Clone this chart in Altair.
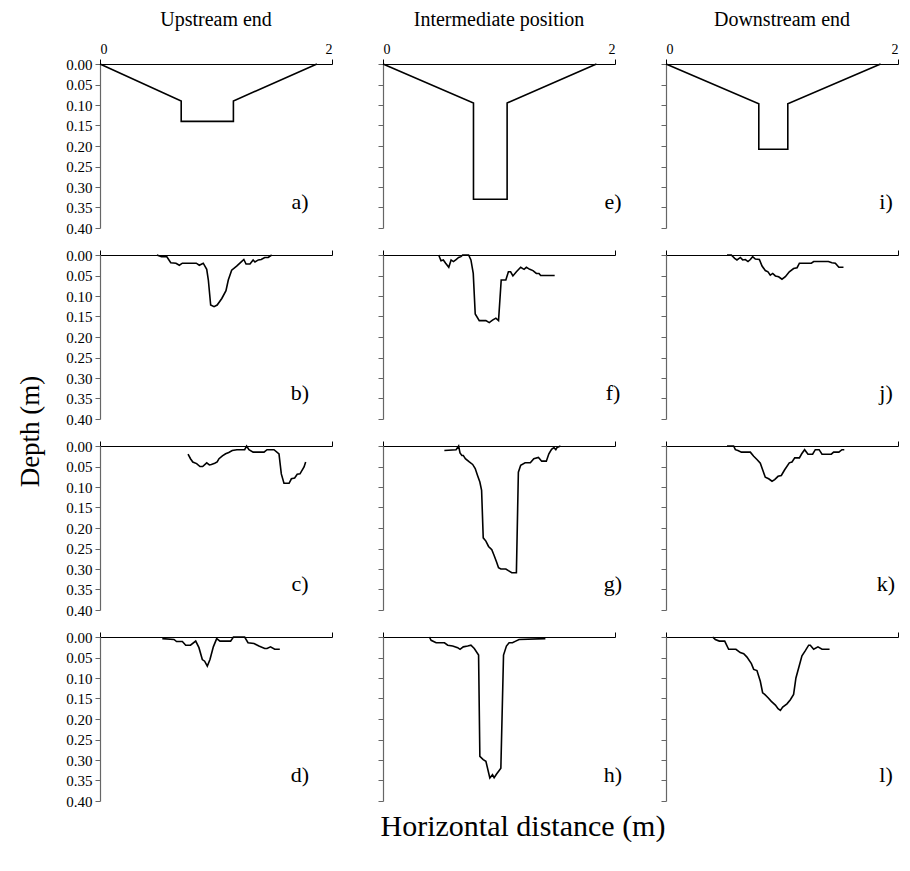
import altair as alt
import pandas as pd

FONT = "Liberation Serif"

col_titles = ["Upstream end", "Intermediate position", "Downstream end"]
labels = ["a)", "e)", "i)", "b)", "f)", "j)", "c)", "g)", "k)", "d)", "h)", "l)"]

# ---- design cross sections (row 1) ----
a_x = [0, 0.70, 0.70, 1.15, 1.15, 1.87]
a_d = [0, 0.09, 0.14, 0.14, 0.09, 0]
e_x = [0, 0.78, 0.78, 1.07, 1.07, 1.84]
e_d = [0, 0.095, 0.33, 0.33, 0.095, 0]
i_x = [0, 0.80, 0.80, 1.05, 1.05, 1.85]
i_d = [0, 0.097, 0.208, 0.208, 0.097, 0]

# ---- measured profiles ----
b_x = [0.49, 0.53, 0.575, 0.61, 0.655, 0.684, 0.71, 0.83, 0.856, 0.89, 0.92, 0.934, 0.954, 0.983, 1.01, 1.05, 1.086, 1.106, 1.135, 1.178, 1.22, 1.24, 1.259, 1.293, 1.32, 1.336, 1.365, 1.39, 1.42, 1.45, 1.48]
b_d = [0, 0.004, 0.004, 0.019, 0.02, 0.025, 0.02, 0.02, 0.025, 0.02, 0.035, 0.061, 0.122, 0.126, 0.122, 0.106, 0.087, 0.061, 0.037, 0.027, 0.016, 0.011, 0.022, 0.022, 0.012, 0.017, 0.012, 0.011, 0.006, 0.006, 0]

f_x = [0.48, 0.50, 0.52, 0.54, 0.567, 0.587, 0.607, 0.63, 0.652, 0.672, 0.687, 0.738, 0.758, 0.778, 0.795, 0.83, 0.887, 0.916, 0.944, 0.973, 0.996, 1.019, 1.059, 1.081, 1.10, 1.12, 1.15, 1.187, 1.216, 1.236, 1.265, 1.293, 1.322, 1.345, 1.359, 1.48]
f_d = [0, 0.014, 0.012, 0.02, 0.030, 0.012, 0.016, 0.011, 0.006, 0.004, 0, 0, 0.012, 0.045, 0.144, 0.16, 0.16, 0.165, 0.159, 0.154, 0.16, 0.061, 0.061, 0.041, 0.041, 0.051, 0.041, 0.030, 0.035, 0.030, 0.035, 0.038, 0.045, 0.045, 0.050, 0.050]

j_x = [0.526, 0.563, 0.592, 0.612, 0.641, 0.661, 0.684, 0.707, 0.727, 0.747, 0.77, 0.805, 0.828, 0.856, 0.879, 0.899, 0.92, 0.943, 0.971, 1.0, 1.029, 1.063, 1.10, 1.13, 1.15, 1.253, 1.273, 1.40, 1.43, 1.46, 1.49, 1.53]
j_d = [0, 0, 0.008, 0.012, 0.006, 0.012, 0.011, 0.016, 0.011, 0.004, 0.010, 0.011, 0.027, 0.038, 0.041, 0.049, 0.045, 0.051, 0.053, 0.059, 0.053, 0.041, 0.033, 0.031, 0.020, 0.020, 0.016, 0.016, 0.019, 0.020, 0.030, 0.030]

c_x = [0.759, 0.78, 0.80, 0.833, 0.862, 0.885, 0.92, 0.943, 0.96, 0.989, 1.01, 1.026, 1.055, 1.083, 1.11, 1.14, 1.18, 1.247, 1.264, 1.284, 1.32, 1.414, 1.44, 1.50, 1.543, 1.563, 1.586, 1.63, 1.65, 1.678, 1.70, 1.724, 1.759, 1.773]
c_d = [0.020, 0.031, 0.039, 0.043, 0.050, 0.050, 0.041, 0.046, 0.045, 0.042, 0.039, 0.031, 0.024, 0.019, 0.016, 0.011, 0.009, 0.009, 0, 0.009, 0.015, 0.015, 0.009, 0.009, 0.019, 0.068, 0.091, 0.091, 0.080, 0.078, 0.069, 0.068, 0.051, 0.039]

g_x = [0.529, 0.63, 0.652, 0.664, 0.68, 0.692, 0.71, 0.744, 0.773, 0.795, 0.815, 0.835, 0.85, 0.864, 0.887, 0.91, 0.938, 0.958, 0.979, 0.996, 1.016, 1.059, 1.081, 1.11, 1.15, 1.167, 1.187, 1.225, 1.27, 1.30, 1.34, 1.368, 1.408, 1.43, 1.453, 1.474, 1.49, 1.50, 1.53]
g_d = [0.011, 0.009, 0, 0.017, 0.023, 0.023, 0.031, 0.039, 0.045, 0.055, 0.072, 0.088, 0.108, 0.224, 0.232, 0.245, 0.253, 0.267, 0.283, 0.297, 0.30, 0.30, 0.304, 0.309, 0.309, 0.064, 0.047, 0.041, 0.041, 0.031, 0.028, 0.037, 0.037, 0.019, 0.008, 0.004, 0.009, 0.004, 0]

k_x = [0.526, 0.583, 0.598, 0.62, 0.65, 0.727, 0.756, 0.784, 0.813, 0.833, 0.856, 0.885, 0.914, 0.937, 0.966, 0.994, 1.023, 1.063, 1.086, 1.11, 1.15, 1.17, 1.195, 1.224, 1.264, 1.287, 1.32, 1.345, 1.425, 1.445, 1.49, 1.517, 1.537]
k_d = [0, 0, 0.009, 0.011, 0.015, 0.015, 0.025, 0.033, 0.042, 0.058, 0.076, 0.080, 0.086, 0.082, 0.074, 0.072, 0.058, 0.041, 0.039, 0.029, 0.029, 0.019, 0.009, 0.020, 0.020, 0.009, 0.009, 0.020, 0.020, 0.015, 0.015, 0.009, 0.009]

d_x = [0.537, 0.638, 0.66, 0.71, 0.739, 0.78, 0.825, 0.853, 0.882, 0.902, 0.925, 0.948, 0.977, 1.006, 1.034, 1.126, 1.15, 1.247, 1.276, 1.328, 1.37, 1.42, 1.44, 1.47, 1.506, 1.55]
d_d = [0.004, 0.006, 0.011, 0.011, 0.020, 0.020, 0.010, 0.026, 0.055, 0.059, 0.071, 0.055, 0.024, 0.004, 0.010, 0.010, 0, 0, 0.014, 0.016, 0.022, 0.028, 0.028, 0.024, 0.030, 0.030]

h_x = [0.40, 0.415, 0.458, 0.53, 0.558, 0.60, 0.644, 0.664, 0.692, 0.73, 0.758, 0.787, 0.824, 0.835, 0.864, 0.887, 0.921, 0.944, 0.958, 0.979, 1.00, 1.016, 1.039, 1.064, 1.087, 1.116, 1.144, 1.173, 1.40]
h_d = [0, 0.008, 0.014, 0.014, 0.020, 0.022, 0.026, 0.030, 0.024, 0.022, 0.020, 0.028, 0.044, 0.291, 0.299, 0.303, 0.344, 0.336, 0.343, 0.334, 0.326, 0.320, 0.044, 0.022, 0.014, 0.014, 0.010, 0.006, 0.004]

l_x = [0.402, 0.425, 0.46, 0.506, 0.54, 0.603, 0.64, 0.67, 0.698, 0.736, 0.756, 0.784, 0.813, 0.833, 0.851, 0.88, 0.908, 0.943, 0.966, 0.986, 1.006, 1.043, 1.072, 1.10, 1.12, 1.144, 1.172, 1.20, 1.23, 1.244, 1.273, 1.31, 1.345, 1.41]
l_d = [0, 0.006, 0.010, 0.010, 0.030, 0.030, 0.038, 0.041, 0.049, 0.065, 0.079, 0.082, 0.108, 0.136, 0.140, 0.148, 0.157, 0.166, 0.175, 0.179, 0.171, 0.163, 0.153, 0.140, 0.100, 0.075, 0.046, 0.034, 0.020, 0.020, 0.030, 0.024, 0.030, 0.030]

profiles = [(a_x, a_d), (e_x, e_d), (i_x, i_d),
            (b_x, b_d), (f_x, f_d), (j_x, j_d),
            (c_x, c_d), (g_x, g_d), (k_x, k_d),
            (d_x, d_d), (h_x, h_d), (l_x, l_d)]

x_ticks = [0, 1, 2]
y_ticks = [0, 0.05, 0.10, 0.15, 0.20, 0.25, 0.30, 0.35, 0.40]

W, H = 232, 164
label_pos_x = [200, 230, 220]
label_pos_y = 138


def panel(idx):
    row, col = divmod(idx, 3)
    xs, ds = profiles[idx]
    df = pd.DataFrame({"x": xs, "d": ds, "i": list(range(len(xs)))})
    xax = alt.Axis(orient="top", values=x_ticks, labels=(row == 0), format="d",
                   grid=False, tickSize=5, domainColor="black", tickColor="black",
                   domainWidth=1.2, tickWidth=1, labelFont=FONT, labelFontSize=14,
                   labelColor="black", labelPadding=3, title=None, labelOverlap=False)
    yargs = dict(values=y_ticks, labels=(col == 0), format=".2f", grid=False,
                 tickSize=5, domainColor="#666666", tickColor="#666666",
                 domainWidth=1.2, labelFont=FONT, labelFontSize=15, labelColor="black",
                 labelPadding=3, labelOverlap=False, title=None)
    if idx == 3:
        yargs.update(title="Depth (m)", titleFont=FONT, titleFontSize=27,
                     titleFontWeight="normal", titleColor="black", titleAngle=270,
                     titleX=-70, titleY=176, titleAlign="center", titleBaseline="middle")
    yax = alt.Axis(**yargs)
    line = alt.Chart(df).mark_line(color="black", strokeWidth=1.6).encode(
        x=alt.X("x:Q", scale=alt.Scale(domain=[0, 2], nice=False, zero=False), axis=xax),
        y=alt.Y("d:Q", scale=alt.Scale(domain=[0, 0.4], reverse=True, nice=False), axis=yax),
        order="i:Q",
    )
    txt = alt.Chart(pd.DataFrame({"t": [labels[idx]]})).mark_text(
        font=FONT, fontSize=22, align="center", baseline="middle", color="black"
    ).encode(text="t:N", x=alt.value(label_pos_x[col]), y=alt.value(label_pos_y))
    layers = [line, txt]
    if idx == 10:
        xt = alt.Chart(pd.DataFrame({"t": ["Horizontal distance (m)"]})).mark_text(
            font=FONT, fontSize=30, align="center", baseline="middle", color="black"
        ).encode(text="t:N", x=alt.value(140), y=alt.value(190))
        layers.append(xt)
    ch = alt.layer(*layers).properties(width=W, height=H)
    if row == 0:
        ch = ch.properties(title=alt.TitleParams(col_titles[col], font=FONT, fontSize=20,
                                                 fontWeight="normal", color="black",
                                                 anchor="middle", frame="group", offset=12))
    return ch


chart = alt.concat(*[panel(i) for i in range(12)], columns=3,
                   spacing={"row": 27, "column": 51}, bounds="flush").properties(
    padding={"left": 8, "top": 2, "right": 0, "bottom": 0}
).configure_view(stroke=None)

chart.save("out.html", embed_options={"renderer": "svg", "actions": False})
